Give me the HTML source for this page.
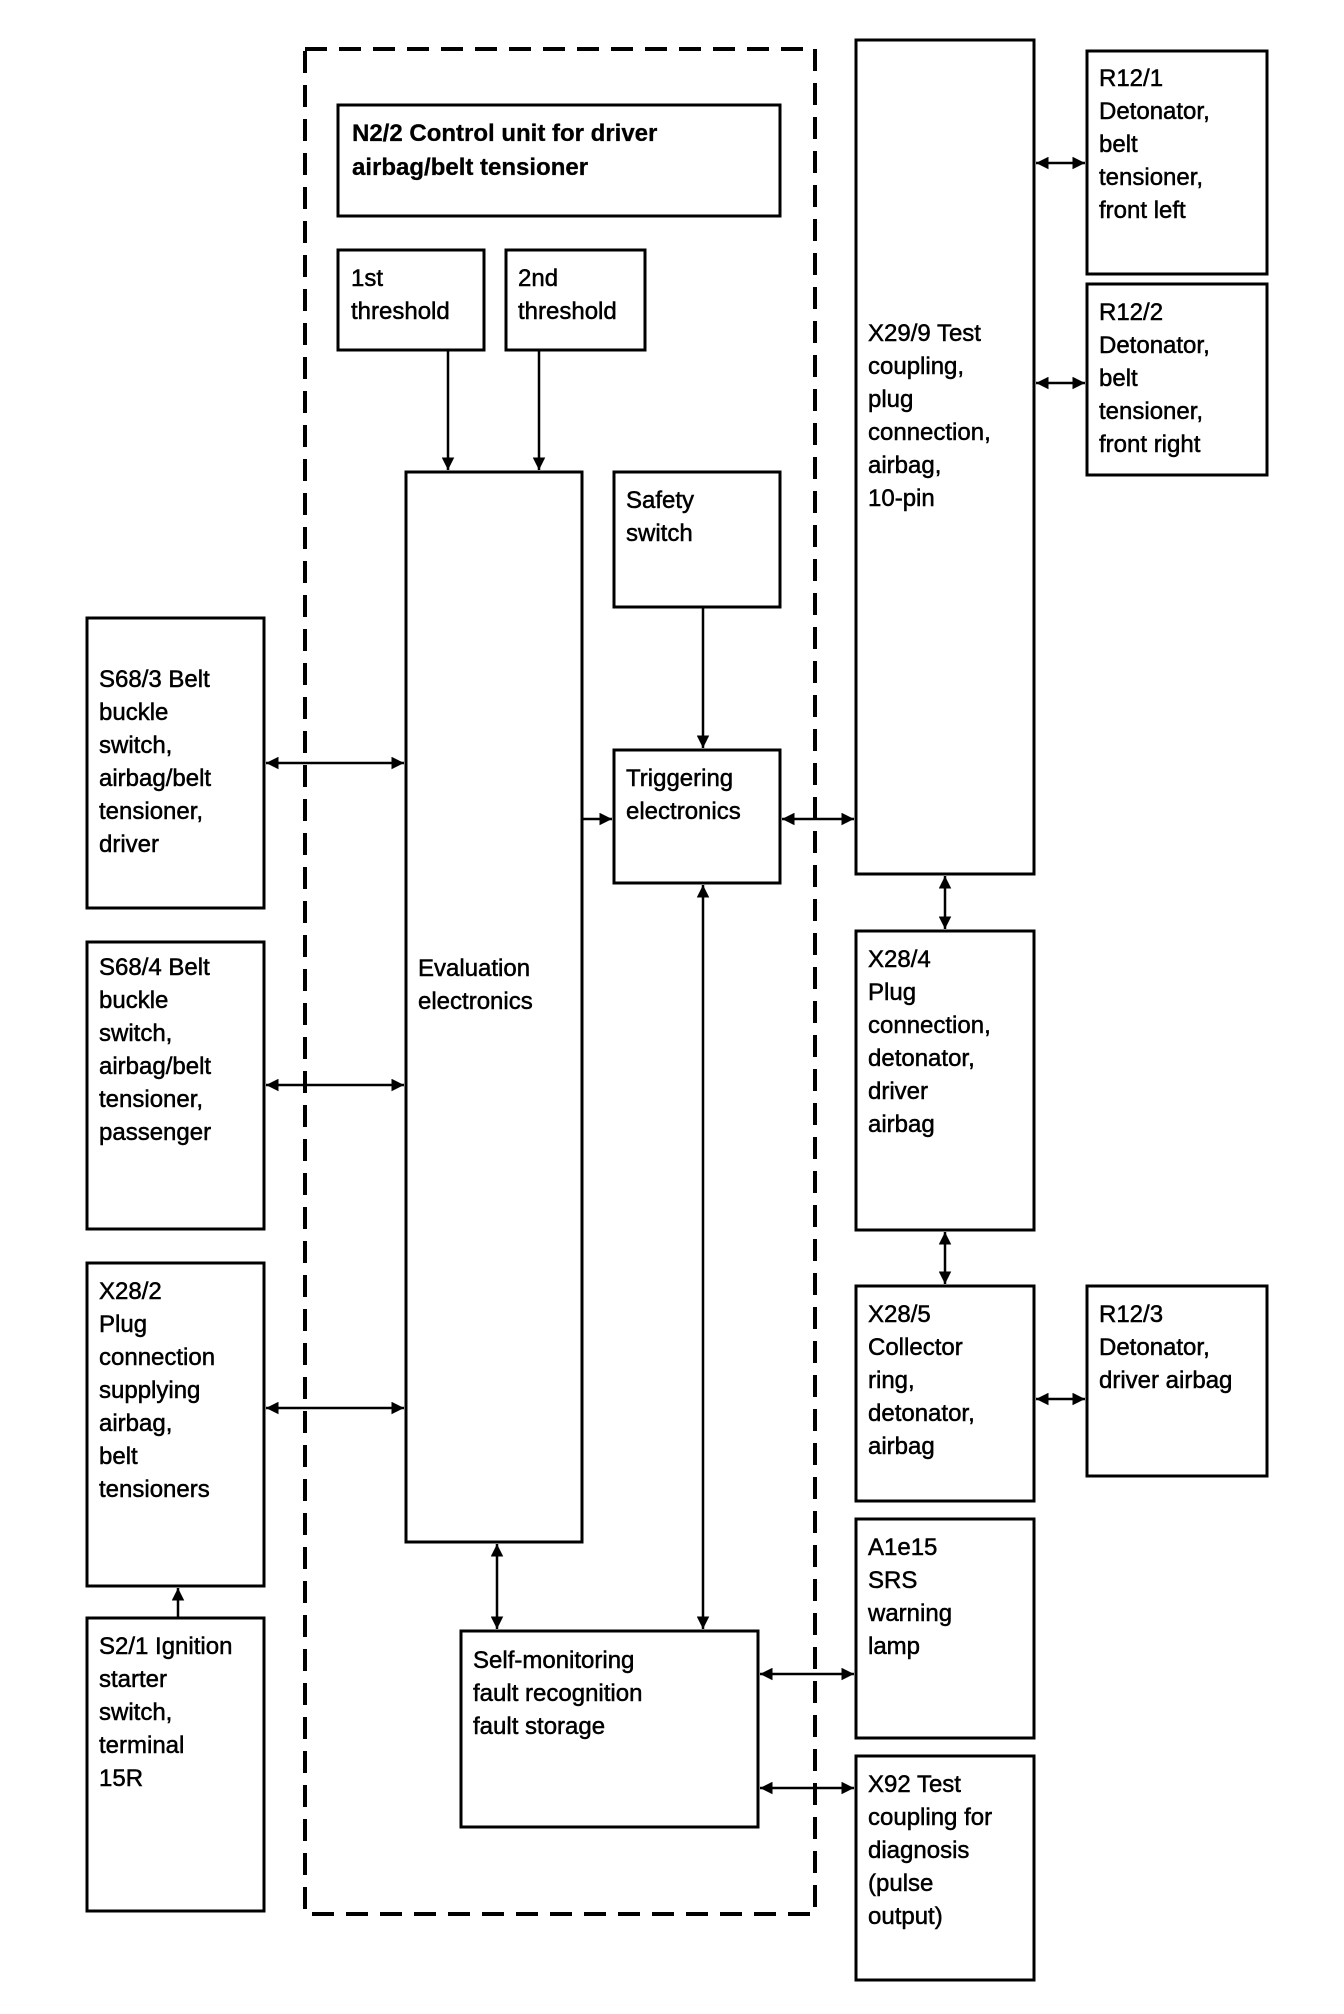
<!DOCTYPE html>
<html><head><style>
body{margin:0;background:#fff}
svg{display:block}
text{font-family:"Liberation Sans",Arial,sans-serif;font-size:24px;fill:#000;stroke:#000;stroke-width:0.5}
</style></head><body>
<svg width="1344" height="2014" viewBox="0 0 1344 2014" xmlns="http://www.w3.org/2000/svg">
<defs>
<marker id="a" viewBox="0 0 10 10" refX="10" refY="5" markerWidth="5" markerHeight="5" orient="auto-start-reverse"><path d="M0,0 L10,5 L0,10 z" fill="#000"/></marker>
</defs>
<g fill="none" stroke="#000" stroke-width="3">
<rect x="305" y="49" width="510" height="1865" stroke-dasharray="22,12" stroke-width="4"/>
<rect x="338" y="105" width="442" height="111"/>
<rect x="338" y="250" width="146" height="100"/>
<rect x="506" y="250" width="139" height="100"/>
<rect x="406" y="472" width="176" height="1070"/>
<rect x="614" y="472" width="166" height="135"/>
<rect x="614" y="750" width="166" height="133"/>
<rect x="461" y="1631" width="297" height="196"/>
<rect x="856" y="40" width="178" height="834"/>
<rect x="1087" y="51" width="180" height="223"/>
<rect x="1087" y="284" width="180" height="191"/>
<rect x="856" y="931" width="178" height="299"/>
<rect x="856" y="1286" width="178" height="215"/>
<rect x="1087" y="1286" width="180" height="190"/>
<rect x="856" y="1519" width="178" height="219"/>
<rect x="856" y="1756" width="178" height="224"/>
<rect x="87" y="618" width="177" height="290"/>
<rect x="87" y="942" width="177" height="287"/>
<rect x="87" y="1263" width="177" height="323"/>
<rect x="87" y="1618" width="177" height="293"/>
</g>
<g stroke="#000" stroke-width="2.5" fill="none">
<line x1="448" y1="350" x2="448" y2="470" marker-end="url(#a)"/>
<line x1="539" y1="350" x2="539" y2="470" marker-end="url(#a)"/>
<line x1="703" y1="607" x2="703" y2="748" marker-end="url(#a)"/>
<line x1="582" y1="819" x2="612" y2="819" marker-end="url(#a)"/>
<line x1="782" y1="819" x2="854" y2="819" marker-start="url(#a)" marker-end="url(#a)"/>
<line x1="1036" y1="163" x2="1085" y2="163" marker-start="url(#a)" marker-end="url(#a)"/>
<line x1="1036" y1="383" x2="1085" y2="383" marker-start="url(#a)" marker-end="url(#a)"/>
<line x1="945" y1="876" x2="945" y2="929" marker-start="url(#a)" marker-end="url(#a)"/>
<line x1="945" y1="1232" x2="945" y2="1284" marker-start="url(#a)" marker-end="url(#a)"/>
<line x1="1036" y1="1399" x2="1085" y2="1399" marker-start="url(#a)" marker-end="url(#a)"/>
<line x1="266" y1="763" x2="404" y2="763" marker-start="url(#a)" marker-end="url(#a)"/>
<line x1="266" y1="1085" x2="404" y2="1085" marker-start="url(#a)" marker-end="url(#a)"/>
<line x1="266" y1="1408" x2="404" y2="1408" marker-start="url(#a)" marker-end="url(#a)"/>
<line x1="178" y1="1618" x2="178" y2="1588" marker-end="url(#a)"/>
<line x1="497" y1="1544" x2="497" y2="1629" marker-start="url(#a)" marker-end="url(#a)"/>
<line x1="703" y1="885" x2="703" y2="1629" marker-start="url(#a)" marker-end="url(#a)"/>
<line x1="760" y1="1674" x2="854" y2="1674" marker-start="url(#a)" marker-end="url(#a)"/>
<line x1="760" y1="1788" x2="854" y2="1788" marker-start="url(#a)" marker-end="url(#a)"/>
</g>
<g>
<text x="352" y="141" font-weight="bold" style="stroke-width:0.3">N2/2 Control unit for driver</text>
<text x="352" y="175" font-weight="bold" style="stroke-width:0.3">airbag/belt tensioner</text>
<text x="351" y="286">1st</text><text x="351" y="319">threshold</text>
<text x="518" y="286">2nd</text><text x="518" y="319">threshold</text>
<text x="626" y="508">Safety</text><text x="626" y="541">switch</text>
<text x="626" y="786">Triggering</text><text x="626" y="819">electronics</text>
<text x="418" y="976">Evaluation</text><text x="418" y="1009">electronics</text>
<text x="473" y="1668">Self-monitoring</text><text x="473" y="1701">fault recognition</text><text x="473" y="1734">fault storage</text>
<text x="868" y="341">X29/9 Test</text><text x="868" y="374">coupling,</text><text x="868" y="407">plug</text><text x="868" y="440">connection,</text><text x="868" y="473">airbag,</text><text x="868" y="506">10-pin</text>
<text x="1099" y="86">R12/1</text><text x="1099" y="119">Detonator,</text><text x="1099" y="152">belt</text><text x="1099" y="185">tensioner,</text><text x="1099" y="218">front left</text>
<text x="1099" y="320">R12/2</text><text x="1099" y="353">Detonator,</text><text x="1099" y="386">belt</text><text x="1099" y="419">tensioner,</text><text x="1099" y="452">front right</text>
<text x="868" y="967">X28/4</text><text x="868" y="1000">Plug</text><text x="868" y="1033">connection,</text><text x="868" y="1066">detonator,</text><text x="868" y="1099">driver</text><text x="868" y="1132">airbag</text>
<text x="868" y="1322">X28/5</text><text x="868" y="1355">Collector</text><text x="868" y="1388">ring,</text><text x="868" y="1421">detonator,</text><text x="868" y="1454">airbag</text>
<text x="1099" y="1322">R12/3</text><text x="1099" y="1355">Detonator,</text><text x="1099" y="1388">driver airbag</text>
<text x="868" y="1555">A1e15</text><text x="868" y="1588">SRS</text><text x="868" y="1621">warning</text><text x="868" y="1654">lamp</text>
<text x="868" y="1792">X92 Test</text><text x="868" y="1825">coupling for</text><text x="868" y="1858">diagnosis</text><text x="868" y="1891">(pulse</text><text x="868" y="1924">output)</text>
<text x="99" y="687">S68/3 Belt</text><text x="99" y="720">buckle</text><text x="99" y="753">switch,</text><text x="99" y="786">airbag/belt</text><text x="99" y="819">tensioner,</text><text x="99" y="852">driver</text>
<text x="99" y="975">S68/4 Belt</text><text x="99" y="1008">buckle</text><text x="99" y="1041">switch,</text><text x="99" y="1074">airbag/belt</text><text x="99" y="1107">tensioner,</text><text x="99" y="1140">passenger</text>
<text x="99" y="1299">X28/2</text><text x="99" y="1332">Plug</text><text x="99" y="1365">connection</text><text x="99" y="1398">supplying</text><text x="99" y="1431">airbag,</text><text x="99" y="1464">belt</text><text x="99" y="1497">tensioners</text>
<text x="99" y="1654">S2/1 Ignition</text><text x="99" y="1687">starter</text><text x="99" y="1720">switch,</text><text x="99" y="1753">terminal</text><text x="99" y="1786">15R</text>
</g>
</svg>
</body></html>
